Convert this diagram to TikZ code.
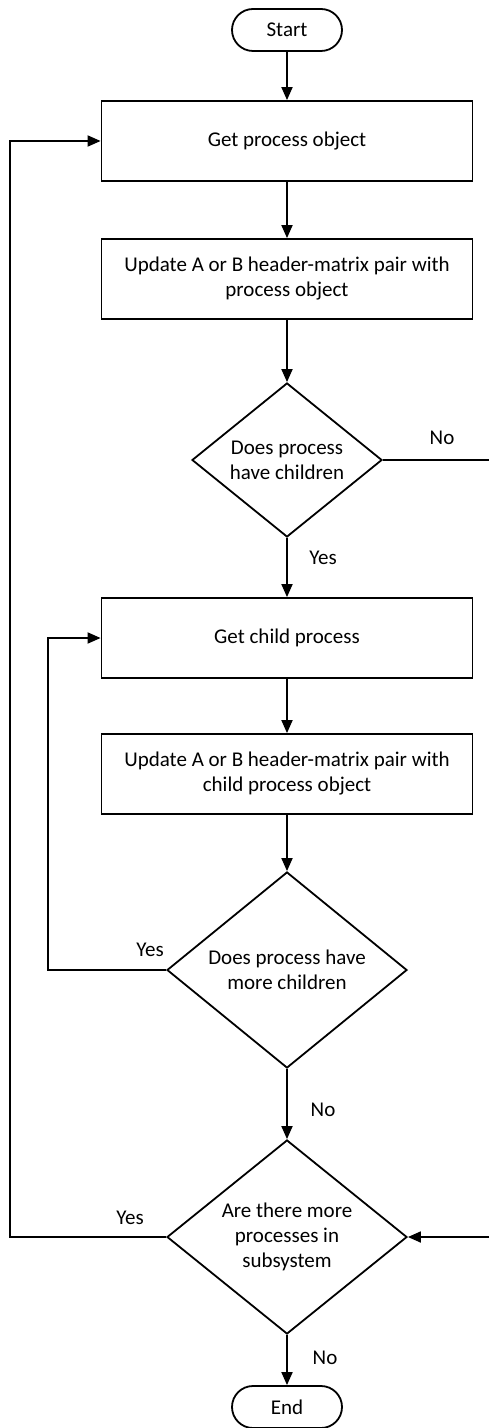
\documentclass[tikz,border=0pt]{standalone}
\usepackage{fontspec}
\setmainfont{Carlito}
\usepackage{tikz}
\usetikzlibrary{shapes,arrows,positioning,arrows.meta}

\tikzset{
    terminal/.style={draw,rounded corners=10.5pt,minimum width=55pt,minimum height=21pt,inner sep=0pt},
    process/.style={draw,minimum width=185.5pt,minimum height=40pt,align=center,inner sep=0pt},
    decision/.style={draw,diamond,aspect=1.22,align=center,inner sep=0pt},
    flow/.style={-{Triangle[length=6.5pt,width=5.5pt]}},
    answer/.style={inner sep=0pt}
}

\begin{document}
\begin{tikzpicture}[x=0.5pt,y=-0.5pt,line width=0.9pt,font=\fontsize{10.5}{12.5}\selectfont]
        % Draw page frame
        \useasboundingbox (0,0) rectangle (489,1428);
        % Draw start and end
        \node[terminal] (start) at (287,30) {Start};
        \node[terminal] (end) at (287,1407) {End};
        % Draw outer loop body
        \node[process] (getproc) at (287,141) {Get process object};
        \node[process] (updproc) at (287,279) {Update A or B header-matrix pair with\\process object};
        \node[decision,minimum width=95pt,minimum height=77pt] (haschild) at (287,460) {Does process\\have children};
        % Draw inner loop body
        \node[process] (getchild) at (287,638) {Get child process};
        \node[process] (updchild) at (287,774) {Update A or B header-matrix pair with\\child process object};
        \node[decision,minimum width=120pt,minimum height=98pt] (morechild) at (287,970) {Does process have\\more children};
        % Draw last question
        \node[decision,minimum width=120pt,minimum height=97pt] (moreproc) at (287,1237) {Are there more\\processes in\\subsystem};
        % Draw loop corners and page edges
        \coordinate (outerloop) at (10,141);
        \coordinate (innerloop) at (48,638);
        \coordinate (noout) at (489,460);
        \coordinate (noin) at (489,1237);
        % Draw main arrows
        \draw[flow] (start) -- (getproc);
        \draw[flow] (getproc) -- (updproc);
        \draw[flow] (updproc) -- (haschild);
        \draw[flow] (haschild) -- (getchild);
        \draw[flow] (getchild) -- (updchild);
        \draw[flow] (updchild) -- (morechild);
        \draw[flow] (morechild) -- (moreproc);
        \draw[flow] (moreproc) -- (end);
        % Draw loops
        \draw[flow] (morechild.west) -| (innerloop) -- (getchild.west);
        \draw[flow] (moreproc.west) -| (outerloop) -- (getproc.west);
        \draw (haschild.east) -- (noout);
        \draw[flow] (noin) -- (moreproc.east);
        % Draw answers
        \node[answer] (nochild) at (442,438) {No};
        \node[answer] (yeschild) at (323,558) {Yes};
        \node[answer] (yesmore) at (150,950) {Yes};
        \node[answer] (nomore) at (323,1110) {No};
        \node[answer] (yesproc) at (130,1218) {Yes};
        \node[answer] (noproc) at (325,1358) {No};
    \end{tikzpicture}
\end{document}
